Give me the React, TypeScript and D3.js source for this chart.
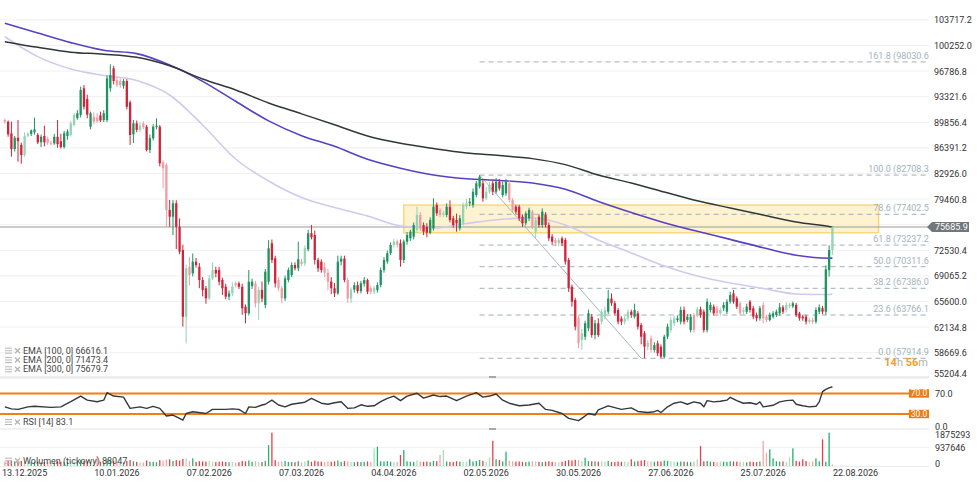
import * as d3 from 'd3';

// ---- data (BTC daily, 07.12.2025 .. 15.08.2026) ----
const firstCandle = '07.12.2025';

const openP = [
  90170, 89940, 88360, 86240, 87770, 86800, 85430, 88040, 88300, 88500, 88140, 87150,
  88000, 87600, 87100, 87000, 87900, 87300, 86500, 88000, 88140, 89500, 90430, 90850,
  94460, 93000, 89260, 90600, 90500, 90800, 90170, 90170, 94460, 97160, 95580, 95450,
  94800, 95450, 92560, 88230, 89720, 88830, 89700, 89260, 86110, 87700, 89200, 89260,
  84440, 84080, 77990, 77080, 78890, 75720, 72570, 63540, 70310, 69420, 70990, 70310,
  68510, 67390, 66030, 68740, 69860, 69860, 68510, 67600, 66250, 66700, 68060, 68060,
  67600, 64900, 64000, 67700, 68050, 65360, 67160, 65130, 68280, 73480, 71450, 68510,
  67390, 66030, 68510, 69180, 70540, 70090, 71000, 70770, 72660, 74830, 74600, 71220,
  70990, 70200, 69500, 68300, 67400, 66700, 71000, 71400, 68500, 66000, 67200, 67800,
  67000, 68000, 68500, 67400, 66930, 67160, 67830, 69860, 71000, 72130, 73250, 73700,
  73480, 71220, 73700, 74150, 74380, 75280, 77310, 75950, 75700, 74900, 75510, 78660,
  77990, 77310, 77310, 78430, 76860, 76630, 75510, 76180, 78430, 78890, 78660, 80010,
  81140, 81600, 79560, 80460, 81600, 80460, 81820, 80000, 80230, 81600, 79340, 78430,
  78430, 77080, 76200, 76860, 77760, 75050, 77080, 75950, 77310, 75950, 74380, 73920,
  73480, 74150, 73920, 71220, 67600, 65800, 63330, 60390, 60830, 61970, 63550, 61070,
  62650, 62870, 63550, 64220, 66000, 65360, 64450, 63300, 62870, 63330, 64220, 63550,
  64000, 62420, 61300, 59480, 60620, 59040, 59940, 59480, 58130, 60840, 61740, 62650,
  63100, 62870, 64450, 63100, 61740, 63770, 63770, 64540, 64220, 61740, 64450, 64900,
  64680, 64000, 64680, 64220, 65570, 66700, 66030, 65360, 64220, 64220, 65570, 64680,
  63770, 63330, 65130, 63550, 63100, 63550, 63770, 64000, 64820, 64450, 64950, 64950,
  65130, 63990, 63550, 63550, 62870, 63100, 62870, 64220, 64680, 64220, 69860, 72570,
];

const highP = [
  90350, 90100, 89940, 88000, 90170, 87100, 88500, 88500, 88900, 90480, 88400, 88200,
  89400, 87900, 87400, 88300, 90170, 88300, 88700, 88900, 90000, 91100, 91500, 94680,
  94900, 93600, 91300, 91200, 91100, 91300, 91500, 96200, 97700, 97500, 96000, 95800,
  95700, 95700, 92800, 90170, 90100, 89900, 90000, 89500, 88200, 89600, 90400, 89500,
  84700, 84300, 79340, 79340, 79300, 76860, 73300, 70600, 71600, 72100, 71500, 70800,
  68900, 67700, 69200, 70900, 70300, 70300, 68800, 68000, 67100, 68200, 68300, 68300,
  68000, 65200, 69860, 68700, 68400, 67600, 68300, 70000, 73900, 74000, 71800, 68900,
  67700, 69100, 70200, 70900, 70900, 73690, 71400, 73200, 75300, 75960, 75200, 71500,
  71300, 70900, 70000, 68900, 68100, 71800, 71800, 71800, 68800, 67500, 68200, 68300,
  68400, 68900, 68700, 67700, 67700, 68200, 70200, 71600, 72500, 73600, 74100, 74000,
  74000, 74000, 75000, 75300, 76300, 78430, 77700, 76300, 76200, 77000, 79560, 79000,
  78300, 77900, 78900, 79300, 77200, 77500, 77300, 79000, 79500, 79600, 80900, 81900,
  82710, 82000, 81100, 81800, 82000, 82300, 82200, 81800, 82200, 82000, 79600, 78700,
  78700, 77400, 77800, 78300, 78000, 77000, 77400, 78200, 77700, 76300, 74700, 74200,
  74200, 74400, 74200, 71500, 67900, 66100, 63700, 61900, 63000, 64500, 63900, 63100,
  63330, 64600, 64900, 67160, 66700, 65700, 64700, 63600, 63600, 64500, 64500, 65300,
  64300, 62700, 61600, 60400, 61000, 60100, 60300, 59800, 61100, 62600, 63500, 63700,
  63700, 64900, 64900, 63900, 63900, 64000, 64900, 64900, 64500, 66000, 65500, 65200,
  65000, 64800, 65500, 65900, 66930, 67160, 66300, 65600, 64800, 65300, 65800, 65000,
  64100, 65000, 65500, 63800, 64100, 64300, 64500, 65400, 65100, 65500, 65400, 65600,
  65400, 64200, 63800, 63800, 63400, 63400, 64800, 65200, 65000, 70500, 73200, 75700,
];

const lowP = [
  89670, 87900, 85200, 85900, 84520, 84260, 85200, 87800, 88000, 88200, 86900, 86500,
  86600, 86800, 86700, 86800, 86400, 86300, 86300, 87500, 87900, 89300, 90200, 90500,
  91600, 90400, 88900, 89600, 89800, 89900, 89900, 89900, 94000, 95000, 94600, 94500,
  94400, 91600, 86800, 87050, 88500, 88500, 88900, 85900, 85700, 87400, 88900, 83900,
  80920, 75720, 75720, 74600, 72700, 72000, 62190, 59940, 67800, 69000, 70200, 67400,
  66300, 65300, 65800, 68500, 68900, 67800, 66500, 65900, 65800, 66300, 67500, 67300,
  63800, 62650, 63700, 67300, 64800, 63100, 65500, 64700, 67900, 70800, 67500, 67000,
  65400, 65700, 68200, 68900, 69800, 69700, 70400, 70400, 72400, 74000, 70600, 69600,
  69500, 68900, 67100, 66600, 66200, 66500, 70500, 68200, 65400, 65400, 66800, 66700,
  66700, 67600, 66600, 66600, 66600, 66800, 67500, 69500, 70700, 71900, 72900, 72900,
  70310, 70800, 73300, 73800, 74000, 74900, 75100, 74600, 74300, 74700, 75200, 77200,
  77000, 77000, 77000, 76300, 75600, 75050, 75200, 75900, 78100, 78500, 78300, 79700,
  80900, 79100, 79300, 80200, 80000, 80200, 80600, 79700, 79900, 79000, 77600, 77400,
  76500, 75700, 75900, 76500, 75400, 74150, 75600, 75600, 75600, 73800, 73300, 73100,
  73100, 73100, 70600, 66900, 64900, 61700, 59270, 59040, 60400, 61600, 60700, 60500,
  60800, 62500, 63200, 63900, 65000, 63700, 62500, 62400, 62500, 63000, 63400, 63300,
  61800, 59800, 57915, 59000, 58700, 58700, 58200, 57950, 57920, 60500, 61400, 62300,
  62800, 62500, 62500, 62800, 61400, 61400, 63400, 63400, 61400, 61400, 64100, 63700,
  63700, 63700, 64300, 63900, 65300, 65300, 64600, 63700, 63900, 63900, 64100, 63200,
  62900, 63000, 62650, 62800, 62900, 63300, 63500, 63700, 63900, 64100, 64700, 64700,
  63500, 63000, 63000, 62500, 62600, 62600, 62600, 63900, 63900, 63800, 68960, 71900,
];

const closeP = [
  89940, 88230, 86240, 87770, 87300, 85430, 88040, 88310, 88750, 88900, 87150, 87900,
  87150, 87100, 87000, 87900, 86900, 86500, 88370, 88600, 89720, 90850, 91080, 94230,
  91960, 90900, 91080, 89940, 90000, 90100, 91080, 95810, 96260, 95450, 94900, 94900,
  95450, 91960, 88140, 89720, 88830, 89400, 89200, 86110, 87700, 89260, 89400, 84310,
  83630, 77990, 77080, 78890, 75720, 72340, 63540, 70090, 69190, 70990, 70540, 68510,
  67160, 66030, 68740, 69860, 69410, 68280, 67390, 66250, 66700, 67600, 67830, 67600,
  64680, 64000, 68280, 68280, 65360, 67160, 66000, 69630, 72800, 71220, 68060, 67390,
  66030, 68740, 69860, 70540, 70090, 71310, 70700, 72800, 74830, 74290, 71220, 70090,
  69860, 69500, 68280, 67400, 66700, 71000, 71400, 68500, 66000, 67200, 67800, 67000,
  68060, 68500, 66930, 66930, 67400, 67830, 69860, 71220, 72130, 73250, 73700, 73300,
  71220, 73700, 74600, 75050, 75950, 77310, 75510, 75050, 74900, 76630, 78430, 77540,
  77310, 77540, 78430, 76630, 75950, 76180, 76860, 78660, 78890, 79100, 80460, 81600,
  82490, 79560, 80460, 81370, 80460, 81820, 80910, 81370, 81820, 79340, 77990, 77760,
  76860, 76180, 77500, 77990, 75720, 76630, 75950, 77760, 75950, 74150, 73700, 73480,
  73920, 73480, 70990, 67390, 65570, 62190, 59940, 61300, 62650, 64000, 61070, 62650,
  61070, 64220, 64450, 66000, 65360, 64000, 62870, 62870, 63300, 64220, 63780, 64450,
  62190, 60830, 59480, 60000, 59040, 59700, 58590, 58130, 60840, 62190, 63100, 63330,
  63330, 64450, 62870, 63550, 63550, 61740, 64540, 63770, 61740, 65570, 65130, 64000,
  64000, 64450, 65130, 65570, 66480, 65570, 64900, 64000, 64450, 64900, 64450, 63550,
  63330, 64680, 63330, 63100, 63770, 64000, 64220, 64820, 64220, 65130, 65150, 65360,
  63770, 63330, 63330, 62870, 63100, 62870, 64450, 64820, 64220, 69950, 72570, 75685.9,
];

// tick volume, thousands
const volumeK = [
  230, 250, 260, 240, 200, 260, 220, 180, 190, 210, 230, 190,
  200, 180, 170, 190, 240, 210, 200, 210, 220, 240, 210, 300,
  260, 240, 200, 230, 507, 220, 180, 340, 300, 250, 210, 190,
  180, 260, 300, 240, 210, 190, 180, 280, 220, 210, 190, 300,
  280, 330, 340, 260, 300, 280, 360, 390, 260, 390, 210, 240,
  230, 220, 250, 210, 200, 220, 230, 210, 190, 200, 180, 190,
  260, 230, 280, 210, 240, 220, 200, 260, 1060, 1690, 300, 220,
  230, 250, 210, 200, 190, 240, 180, 230, 280, 210, 270, 230,
  220, 200, 230, 210, 240, 280, 210, 250, 230, 200, 190, 210,
  200, 210, 230, 200, 895, 980, 240, 230, 250, 220, 210, 200,
  560, 810, 240, 220, 210, 280, 230, 210, 220, 200, 260, 240,
  560, 810, 230, 210, 200, 240, 220, 210, 230, 340, 230, 250,
  300, 260, 210, 440, 1280, 340, 300, 230, 725, 260, 240, 220,
  230, 210, 200, 220, 240, 230, 210, 200, 220, 240, 210, 200,
  190, 220, 260, 300, 280, 320, 300, 260, 420, 250, 240, 230,
  220, 240, 230, 260, 210, 200, 230, 210, 220, 200, 340, 230,
  250, 280, 300, 240, 230, 220, 240, 230, 280, 260, 240, 220,
  200, 230, 220, 210, 200, 220, 340, 1010, 240, 260, 220, 210,
  200, 230, 220, 210, 240, 230, 220, 210, 200, 190, 220, 210,
  200, 230, 1270, 675, 845, 390, 240, 220, 230, 210, 440, 895,
  260, 230, 340, 250, 210, 230, 390, 240, 1350, 220, 1690, 88.047,
];

// EMA lines, sampled every 10 candles (+ last)
const emaIdx = [0, 10, 20, 30, 40, 50, 60, 70, 80, 90, 100, 110, 120, 130, 140, 150, 160, 170, 180, 190, 200, 210, 220, 230, 240, 250, 251];
const ema100 = [101440, 98750, 97080, 96200, 95520, 93550, 89490, 84890, 81910, 79680, 78320, 77170, 75820, 75550, 76160, 76700, 76900, 75960, 73930, 72170, 70400, 69050, 68100, 67360, 66620, 66550, 66616.1];
const ema200 = [103260, 101950, 100640, 99600, 99150, 97600, 95400, 92700, 90050, 88050, 86600, 84850, 83640, 82720, 82210, 81980, 81640, 80790, 79140, 77650, 76270, 75100, 74010, 72880, 71870, 71460, 71473.4];
const ema300 = [100770, 100000, 99350, 99080, 98650, 97500, 95720, 94230, 92470, 91000, 89530, 88000, 87010, 86300, 85700, 85360, 84940, 84130, 82720, 81640, 80420, 79230, 78260, 77310, 76360, 75750, 75679.7];

// RSI(14)
const rsiIdx = [
  0, 2, 4, 7, 9, 14, 17, 20, 23, 25, 28, 30, 31, 33, 36, 38, 41, 43, 45, 47, 49, 51, 54, 55, 57,
  61, 63, 67, 69, 71, 73, 74, 76, 78, 79, 81, 83, 85, 87, 89, 91, 93, 96, 98, 100, 102, 104, 106,
  108, 110, 112, 114, 116, 118, 120, 122, 125, 127, 130, 132, 134, 137, 140, 143, 145, 147, 149,
  151, 153, 156, 159, 162, 164, 166, 169, 171, 174, 175, 177, 179, 180, 183, 187, 190, 192, 195,
  197, 198, 199, 201, 203, 205, 207, 209, 211, 212, 213, 215, 217, 219, 220, 222, 224, 226, 228,
  229, 230, 233, 235, 237, 239, 240, 242, 244, 246, 247, 248, 249, 250, 251,
];
const rsiVal = [
  44, 40, 39, 44, 45, 43, 44, 54, 65, 57, 54, 57, 71.6, 65, 63, 41, 44, 41, 45, 41, 26, 28, 18, 31, 34.5,
  31, 39, 39, 40, 39, 31, 44, 43, 47.6, 49, 57, 47.6, 44, 49, 51, 53, 60.6, 51, 49, 52, 54, 41, 42,
  48, 45, 46, 54, 60.6, 65, 56, 65, 70.4, 61, 67, 64, 65, 56, 65, 71.6, 63, 65, 69,
  57, 51, 46, 47.6, 51, 39, 37, 31, 21.6, 17, 21.6, 31, 28, 38, 46, 39, 42, 35, 33,
  34.5, 37, 33, 44, 51, 53.6, 49, 53.6, 51, 44, 56, 53.6, 55, 57, 62.6, 56, 51, 52, 49,
  53.6, 44, 47, 53.6, 56, 57, 49, 46, 44, 45, 53.6, 73.6, 78, 81, 83.1,
];

const priceTicks = [55204.4, 58669.6, 62134.8, 65600.0, 69065.2, 72530.4, 75995.6, 79460.8, 82926.0, 86391.2, 89856.4, 93321.6, 96786.8, 100252.0, 103717.2];
const dateTicks = ['13.12.2025', '10.01.2026', '07.02.2026', '07.03.2026', '04.04.2026', '02.05.2026', '30.05.2026', '27.06.2026', '25.07.2026', '22.08.2026'];
const volTicks = [0, 937646, 1875293];
const rsiTicks = [0, 70];
const rsiLevels = [70, 30];

const fibLevels = [161.8, 100.0, 78.6, 61.8, 50.0, 38.2, 23.6, 0.0];
const fibPrices = [98030.6, 82708.3, 77402.5, 73237.2, 70311.6, 67386.0, 63766.1, 57914.9];
const fibStart = '30.04.2026';
const trendDates = ['30.04.2026', '18.06.2026'];
const trendPrices = [82708.3, 57914.9];

const zoneDates = ['07.04.2026', '29.08.2026'];
const zonePrices = [74900, 78660];

const lastPrice = 75685.9;
const emaLegend = [
  { name: 'EMA [100, 0]', value: '66616.1' },
  { name: 'EMA [200, 0]', value: '71473.4' },
  { name: 'EMA [300, 0]', value: '75679.7' },
];

const W = 977;
const H = 482;
const plotR = 929;
const font = 'Roboto, sans-serif';

const parseDay = d3.timeParse('%d.%m.%Y');

function LegendIcon({ cy }: { cy: number }) {
  return (
    <g stroke="#b5b5b5">
      <line x1={5} x2={12} y1={cy - 2.5} y2={cy - 2.5} strokeWidth={1} />
      <line x1={5} x2={12} y1={cy} y2={cy} strokeWidth={1} />
      <line x1={5} x2={12} y1={cy + 2.5} y2={cy + 2.5} strokeWidth={1} />
      <line x1={15} x2={20} y1={cy - 2.5} y2={cy + 2.5} strokeWidth={1.3} />
      <line x1={15} x2={20} y1={cy + 2.5} y2={cy - 2.5} strokeWidth={1.3} />
    </g>
  );
}

export default function App() {
  const start = parseDay(firstCandle) as Date;
  const dates = closeP.map((_, i) => d3.timeDay.offset(start, i));

  const x = d3.scaleTime()
    .domain([parseDay(dateTicks[0]) as Date, parseDay(dateTicks[dateTicks.length - 1]) as Date])
    .range([24.6, 855.5]);
  const y = d3.scaleLinear().domain([55204.4, 103717.2]).range([378.3, 19.9]);
  const yRsi = d3.scaleLinear().domain([0, 100]).range([429.4, 378.1]);
  const yVol = d3.scaleLinear().domain([0, 1875293]).range([466, 429]);

  const candleColor = (i: number) => {
    const up = closeP[i] >= openP[i];
    const day = dates[i].getDay();
    const light = day === 0 || day === 6;
    if (up) return light ? '#94d3b4' : '#1f9361';
    return light ? '#f09ca5' : '#d1243a';
  };
  const volColor = (i: number) => {
    const up = closeP[i] >= openP[i];
    const day = dates[i].getDay();
    const light = day === 0 || day === 6;
    if (up) return light ? '#a6dfc3' : '#26b070';
    return light ? '#f5a5a8' : '#e5414a';
  };

  const emaLine = (vals: number[]) =>
    d3.line<number>()
      .x((_, k) => x(dates[emaIdx[k]]))
      .y((v) => y(v))
      .curve(d3.curveMonotoneX)(vals) as string;

  const rsiPath = d3.line<number>()
    .x((_, k) => x(dates[rsiIdx[k]]))
    .y((v) => yRsi(v))(rsiVal) as string;

  const fibX0 = x(parseDay(fibStart) as Date);
  const zx0 = x(parseDay(zoneDates[0]) as Date);
  const zx1 = x(parseDay(zoneDates[1]) as Date);
  const yLast = y(lastPrice);

  // axis labels hidden under the last-price tag are not drawn
  const visibleTicks = priceTicks.filter((t) => Math.abs(y(t) - yLast) > 8);

  return (
    <svg
      width={W}
      height={H}
      viewBox={`0 0 ${W} ${H}`}
      style={{ position: 'fixed', left: 0, top: 0, background: '#fff', fontFamily: font }}
    >
      <defs>
        <clipPath id="pricePlot"><rect x={0} y={0} width={plotR} height={377} /></clipPath>
        <clipPath id="rsiPlot"><rect x={0} y={377.5} width={plotR} height={51} /></clipPath>
      </defs>
      <rect x={0} y={0} width={W} height={H} fill="#fff" />

      {/* price grid */}
      {priceTicks.map((t) => (
        <line key={t} x1={0} x2={plotR} y1={y(t)} y2={y(t)} stroke="#f1f1f1" strokeWidth={1} />
      ))}

      <g clipPath="url(#pricePlot)">
        {/* supply zone */}
        <rect
          x={zx0}
          y={y(zonePrices[1])}
          width={zx1 - zx0}
          height={y(zonePrices[0]) - y(zonePrices[1])}
          fill="#fdf0c4"
          fillOpacity={0.8}
          stroke="#f6d56e"
          strokeWidth={1.3}
        />

        {/* fibonacci */}
        {fibLevels.map((lv, k) => (
          <g key={lv}>
            <line x1={fibX0} x2={plotR} y1={y(fibPrices[k])} y2={y(fibPrices[k])}
              stroke="#9fb0ba" strokeWidth={1} strokeDasharray="5,4" />
            <text x={932} y={y(fibPrices[k]) - 3} textAnchor="end" fontSize={9} fill="#a3b3bd">
              {`${lv.toFixed(1)} (${fibPrices[k].toFixed(1)})`}
            </text>
          </g>
        ))}
        <line
          x1={x(parseDay(trendDates[0]) as Date)} y1={y(trendPrices[0])}
          x2={x(parseDay(trendDates[1]) as Date)} y2={y(trendPrices[1])}
          stroke="#a9b7bf" strokeWidth={1}
        />

        {/* last price line */}
        <line x1={0} x2={plotR} y1={yLast} y2={yLast} stroke="#9a9a9a" strokeWidth={1} />

        {/* EMAs */}
        <path d={emaLine(ema100)} fill="none" stroke="#d2c9ee" strokeWidth={1.6} />
        <path d={emaLine(ema200)} fill="none" stroke="#5b3fc2" strokeWidth={1.6} />
        <path d={emaLine(ema300)} fill="none" stroke="#2f3838" strokeWidth={1.5} />

        {/* candles */}
        {closeP.map((c, i) => {
          const cx = x(dates[i]);
          const col = candleColor(i);
          const top = y(Math.max(openP[i], c));
          const bot = y(Math.min(openP[i], c));
          return (
            <g key={i}>
              <line x1={cx} x2={cx} y1={y(highP[i])} y2={y(lowP[i])} stroke={col} strokeWidth={1} />
              <rect x={cx - 1.15} y={top} width={2.3} height={Math.max(1, bot - top)} fill={col} />
            </g>
          );
        })}
      </g>

      {/* price axis labels */}
      {visibleTicks.map((t) => (
        <text key={t} x={934} y={Math.min(y(t) + 3.5, 377)} fontSize={9} fill="#333">
          {t.toFixed(1)}
        </text>
      ))}
      <polygon
        points={`927,${yLast} 932,${yLast - 5} 969,${yLast - 5} 969,${yLast + 5} 932,${yLast + 5}`}
        fill="#72777b"
      />
      <text x={935} y={yLast + 3.3} fontSize={9} fill="#fff">{lastPrice.toFixed(1)}</text>

      {/* countdown */}
      <text x={928} y={366} textAnchor="end" fontSize={11} fontWeight={700}>
        <tspan fill="#f6a11c">14</tspan>
        <tspan fill="#b3b3b3" fontWeight={400}>h </tspan>
        <tspan fill="#f6a11c">56</tspan>
        <tspan fill="#b3b3b3" fontWeight={400}>m</tspan>
      </text>

      {/* EMA legend */}
      {emaLegend.map((e, k) => {
        const cy = 350.7 + k * 9.3;
        return (
          <g key={e.name}>
            <LegendIcon cy={cy} />
            <text x={23} y={cy + 3} fontSize={9} fill="#444">{`${e.name} ${e.value}`}</text>
          </g>
        );
      })}

      {/* panel separators */}
      <line x1={0} x2={plotR} y1={377} y2={377} stroke="#dedede" strokeWidth={1} />
      <line x1={0} x2={plotR} y1={429} y2={429} stroke="#e4e4e4" strokeWidth={1} />
      <line x1={0} x2={plotR} y1={466.5} y2={466.5} stroke="#ececec" strokeWidth={1} />
      <rect x={489} y={376} width={7} height={2} fill="#a8a8a8" />
      <rect x={489} y={428} width={7} height={2} fill="#a8a8a8" />

      {/* RSI panel */}
      {rsiLevels.map((lv) => (
        <g key={lv}>
          <line x1={0} x2={909} y1={yRsi(lv)} y2={yRsi(lv)} stroke="#f37d16" strokeWidth={1.8} />
          <rect x={909} y={yRsi(lv) - 4.2} width={20} height={8.4} fill="#f07a12" />
          <text x={919} y={yRsi(lv) + 3} textAnchor="middle" fontSize={8.5} fill="#fff">{lv.toFixed(1)}</text>
        </g>
      ))}
      <g clipPath="url(#rsiPlot)">
        <path d={rsiPath} fill="none" stroke="#33393b" strokeWidth={1.4} strokeLinejoin="round" />
      </g>
      {rsiTicks.map((t) => (
        <text key={t} x={935} y={Math.min(yRsi(t) + 3.5, 429.7)} fontSize={9} fill="#333">{t.toFixed(1)}</text>
      ))}
      <LegendIcon cy={422} />
      <text x={23} y={425} fontSize={9} fill="#444">RSI [14] 83.1</text>

      {/* volume panel */}
      <line x1={0} x2={plotR} y1={yVol(937646)} y2={yVol(937646)} stroke="#f2f2f2" strokeWidth={1} />
      {volumeK.map((v, i) => {
        const cx = x(dates[i]);
        const top = yVol(v * 1000);
        return (
          <rect key={i} x={cx - 0.65} y={top} width={1.3} height={Math.max(0.6, 466 - top)} fill={volColor(i)} />
        );
      })}
      {volTicks.map((t) => (
        <text key={t} x={935} y={Math.max(438, Math.min(yVol(t) + 3.8, 466.7))} fontSize={9} fill="#333">
          {String(t)}
        </text>
      ))}
      <LegendIcon cy={460.7} />
      <text x={23} y={463.7} fontSize={9} fill="#444">Wolumen (tickowy) 88047</text>

      {/* date axis */}
      {dateTicks.map((d) => (
        <text key={d} x={x(parseDay(d) as Date)} y={475.5} textAnchor="middle" fontSize={9} fill="#333">
          {d}
        </text>
      ))}
    </svg>
  );
}
